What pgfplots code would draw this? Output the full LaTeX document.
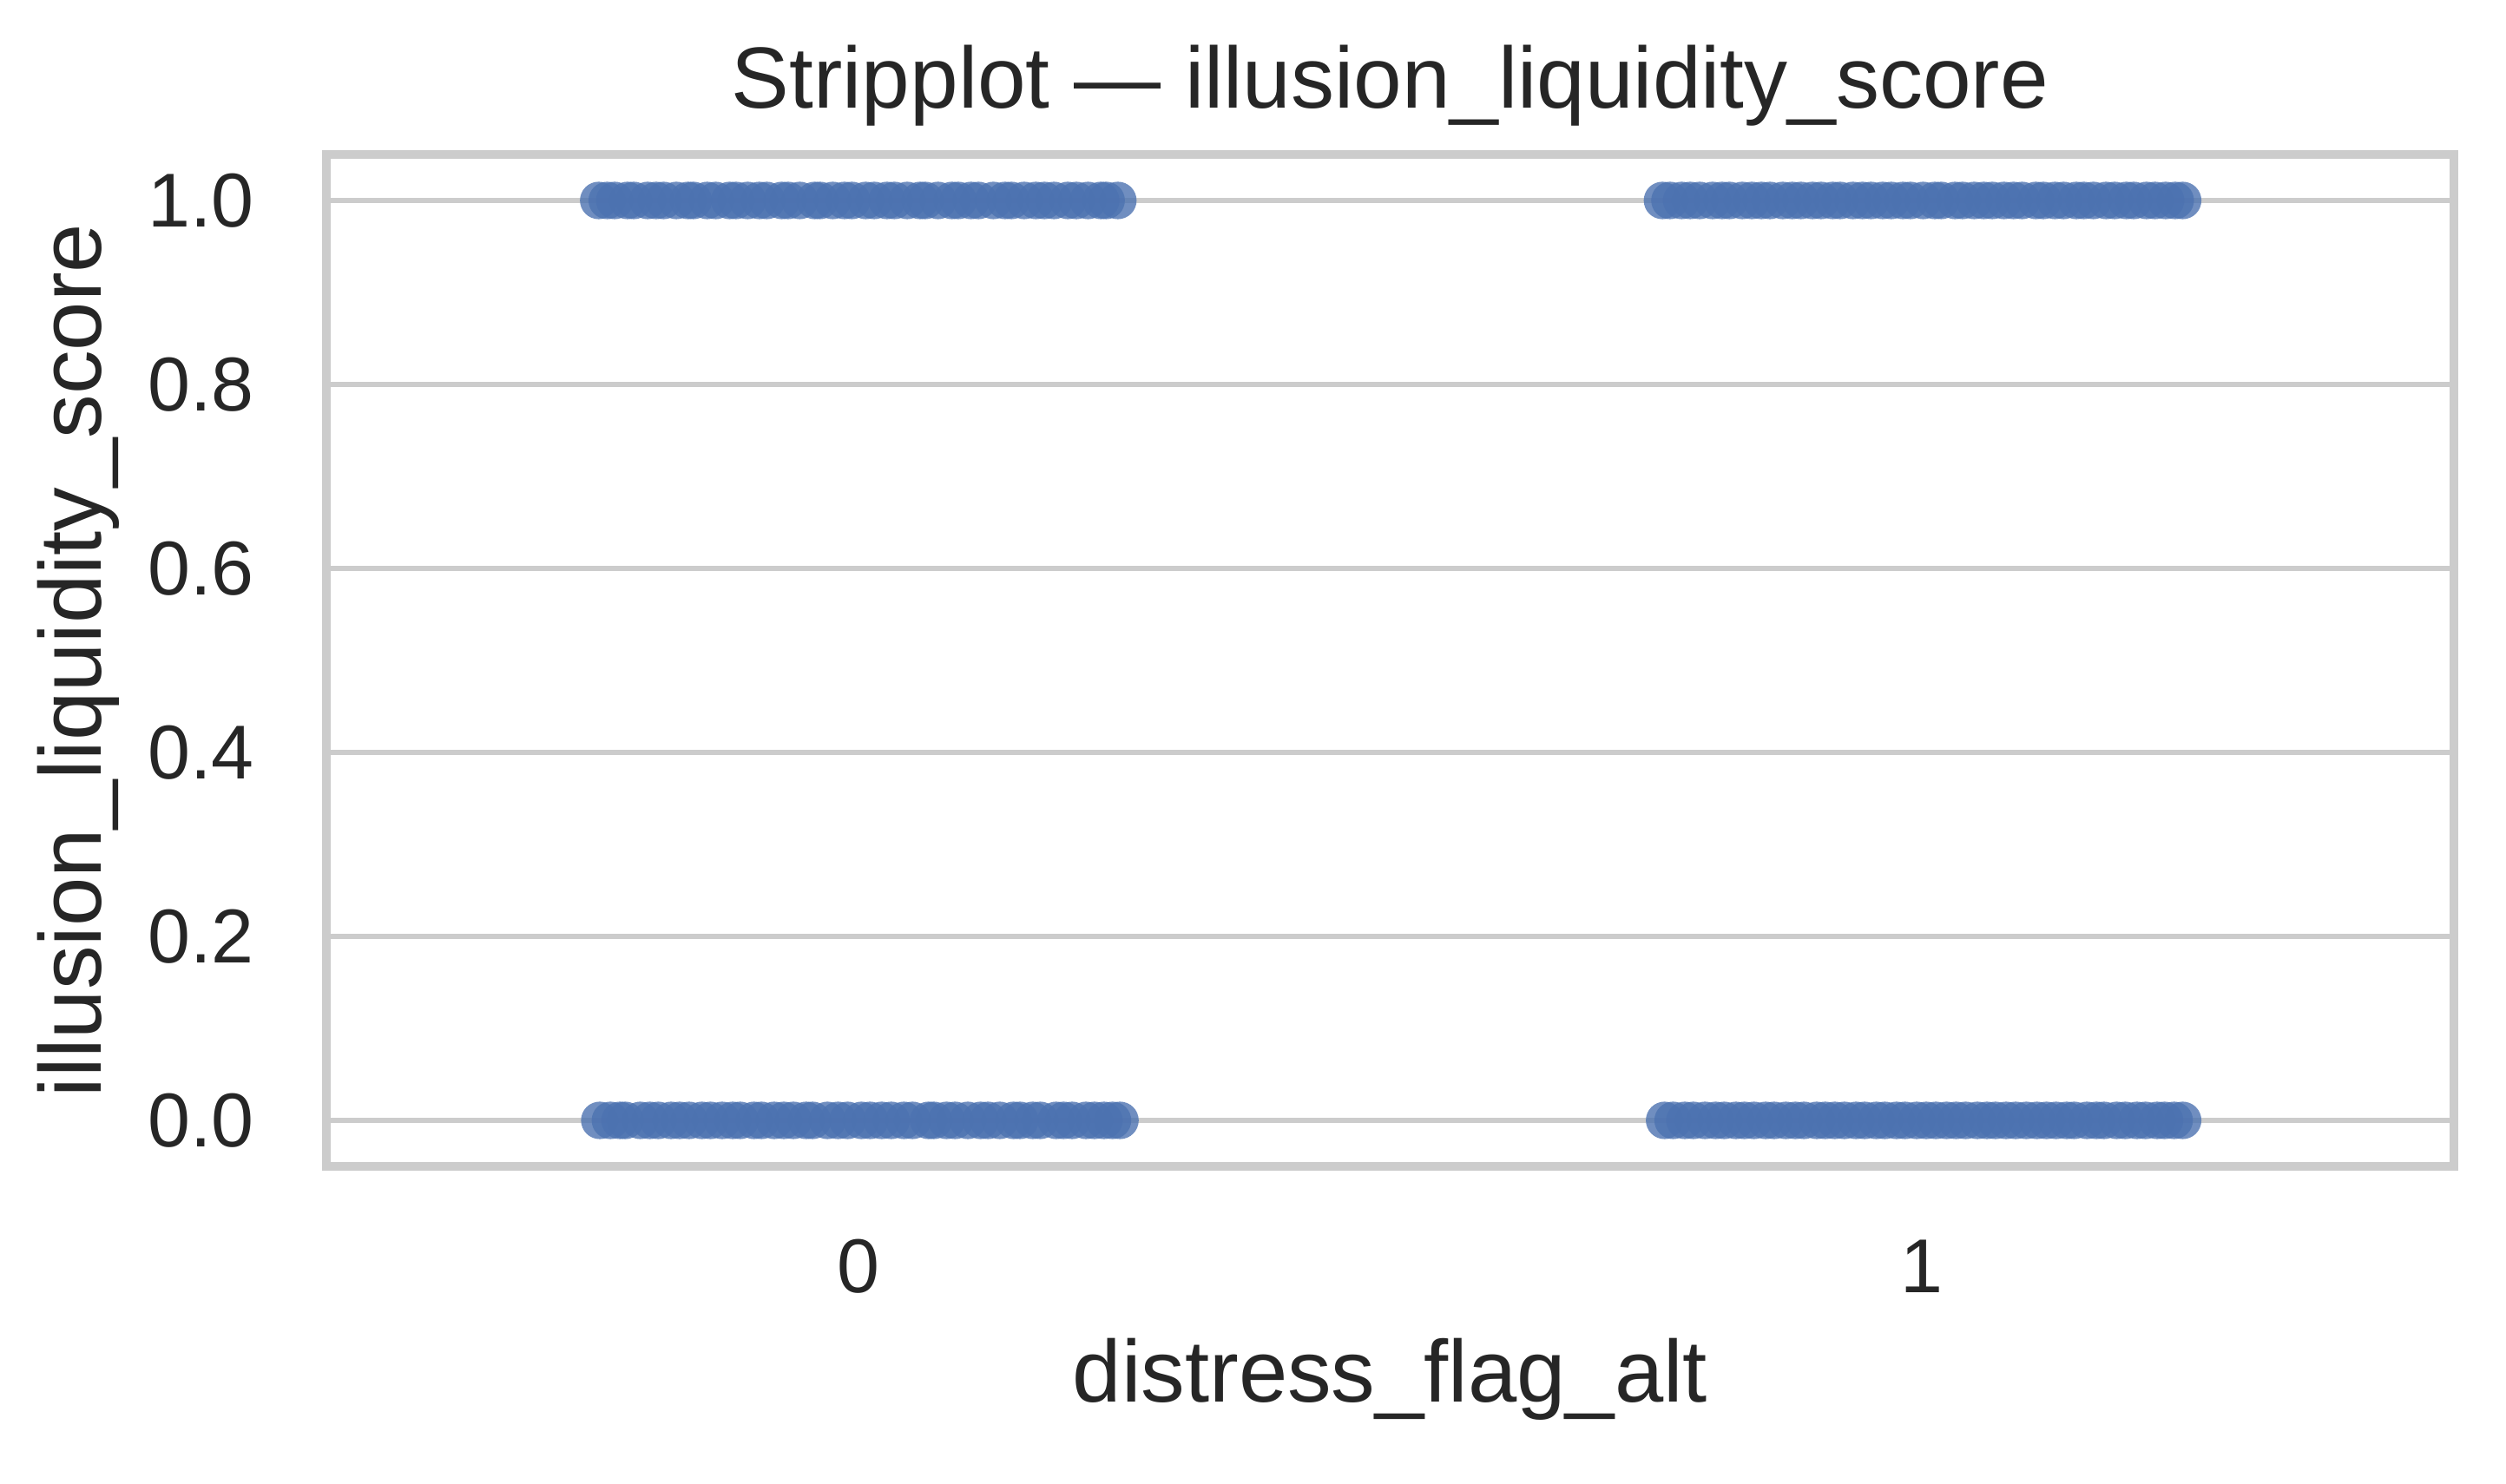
\documentclass[border=0pt]{standalone}
\usepackage{pgfplots}
\pgfplotsset{compat=1.18}
\usepackage{fontspec}
\setmainfont{Liberation Sans}
\definecolor{sbblue}{HTML}{4C72B0}
\definecolor{sbgrid}{HTML}{CCCCCC}
\begin{document}
\begin{tikzpicture}
\useasboundingbox (-94pt,-91.5pt) rectangle (627.75pt,336pt);
\begin{axis}[
  at={(0,0)}, anchor=south west,
  scale only axis,
  width=612.75pt, height=291.5pt,
  xmin=-0.5, xmax=1.5,
  ymin=-0.05, ymax=1.05,
  xtick={0,1}, xticklabels={0,1},
  ytick={0,0.2,0.4,0.6,0.8,1.0},
  major tick length=0pt,
  ymajorgrids, grid style={sbgrid,line width=1.7pt},
  axis line style={sbgrid,line width=2.4pt},
  /pgf/number format/assume math mode=true,
  yticklabel={\pgfmathprintnumber[fixed,fixed zerofill,precision=1]{\tick}},
  tick label style={font=\fontsize{22}{26}\selectfont, text=black!85},
  yticklabel style={anchor=east, inner sep=0pt, xshift=-20.6pt},
  xticklabel style={anchor=base, inner sep=0pt, yshift=-36.5pt},
  every axis title shift=0pt,
  title={Stripplot — illusion\_liquidity\_score},
  title style={font=\fontsize{25}{30}\selectfont, text=black!85,
    at={(0.5,1)}, anchor=base, inner sep=0pt, yshift=13.25pt},
  xlabel={distress\_flag\_alt},
  ylabel={illusion\_liquidity\_score},
  label style={font=\fontsize{25.3}{30}\selectfont, text=black!85},
  xlabel style={at={(0.5,0)}, anchor=base, inner sep=0pt, yshift=-67.75pt},
  ylabel style={at={(0,0.5)}, anchor=base, inner sep=0pt, yshift=64.75pt},
  clip=false,
]
\addplot[only marks, mark=*, color=sbblue, mark size=5.4pt,
  mark options={draw opacity=0, fill=sbblue, fill opacity=0.8}]
  coordinates{
  % distress_flag_alt = 0, score = 1
  (-0.244,1)(-0.236,1)(-0.229,1)(-0.217,1)(-0.211,1)(-0.198,1)(-0.190,1)(-0.183,1)
  (-0.171,1)(-0.160,1)(-0.155,1)(-0.142,1)(-0.134,1)(-0.121,1)(-0.115,1)(-0.104,1)
  (-0.093,1)(-0.086,1)(-0.072,1)(-0.066,1)(-0.055,1)(-0.041,1)(-0.036,1)(-0.024,1)
  (-0.013,1)(-0.006,1)(0.007,1)(0.015,1)(0.027,1)(0.034,1)(0.046,1)(0.058,1)
  (0.063,1)(0.075,1)(0.088,1)(0.094,1)(0.106,1)(0.113,1)(0.127,1)(0.138,1)
  (0.144,1)(0.156,1)(0.167,1)(0.175,1)(0.184,1)(0.197,1)(0.205,1)(0.216,1)
  (0.228,1)(0.233,1)(0.244,1)
  % distress_flag_alt = 0, score = 0
  (-0.243,0)(-0.233,0)(-0.224,0)(-0.219,0)(-0.205,0)(-0.196,0)(-0.188,0)(-0.176,0)
  (-0.168,0)(-0.159,0)(-0.147,0)(-0.139,0)(-0.128,0)(-0.118,0)(-0.111,0)(-0.098,0)
  (-0.091,0)(-0.079,0)(-0.070,0)(-0.061,0)(-0.049,0)(-0.043,0)(-0.029,0)(-0.019,0)
  (-0.010,0)(0.003,0)(0.011,0)(0.022,0)(0.031,0)(0.043,0)(0.051,0)(0.066,0)
  (0.071,0)(0.083,0)(0.091,0)(0.103,0)(0.115,0)(0.122,0)(0.133,0)(0.146,0)
  (0.152,0)(0.164,0)(0.171,0)(0.186,0)(0.193,0)(0.201,0)(0.214,0)(0.222,0)
  (0.231,0)(0.239,0)(0.246,0)
  % distress_flag_alt = 1, score = 1
  (0.756,1)(0.763,1)(0.774,1)(0.782,1)(0.791,1)(0.803,1)(0.812,1)(0.819,1)
  (0.831,1)(0.840,1)(0.849,1)(0.857,1)(0.869,1)(0.878,1)(0.886,1)(0.897,1)
  (0.905,1)(0.916,1)(0.923,1)(0.935,1)(0.944,1)(0.952,1)(0.963,1)(0.971,1)
  (0.982,1)(0.989,1)(1.001,1)(1.012,1)(1.018,1)(1.031,1)(1.038,1)(1.049,1)
  (1.058,1)(1.066,1)(1.077,1)(1.086,1)(1.094,1)(1.107,1)(1.114,1)(1.125,1)
  (1.133,1)(1.145,1)(1.152,1)(1.161,1)(1.173,1)(1.181,1)(1.192,1)(1.199,1)
  (1.211,1)(1.219,1)(1.229,1)(1.238,1)(1.245,1)
  % distress_flag_alt = 1, score = 0
  (0.758,0)(0.766,0)(0.777,0)(0.785,0)(0.796,0)(0.806,0)(0.814,0)(0.825,0)
  (0.833,0)(0.842,0)(0.853,0)(0.861,0)(0.872,0)(0.881,0)(0.889,0)(0.901,0)
  (0.909,0)(0.918,0)(0.927,0)(0.938,0)(0.946,0)(0.957,0)(0.965,0)(0.976,0)
  (0.984,0)(0.995,0)(1.004,0)(1.013,0)(1.023,0)(1.032,0)(1.041,0)(1.052,0)
  (1.061,0)(1.069,0)(1.079,0)(1.088,0)(1.098,0)(1.108,0)(1.117,0)(1.126,0)
  (1.136,0)(1.143,0)(1.155,0)(1.164,0)(1.171,0)(1.183,0)(1.191,0)(1.202,0)
  (1.210,0)(1.221,0)(1.228,0)(1.237,0)(1.245,0)
  };
\end{axis}
\end{tikzpicture}
\end{document}
